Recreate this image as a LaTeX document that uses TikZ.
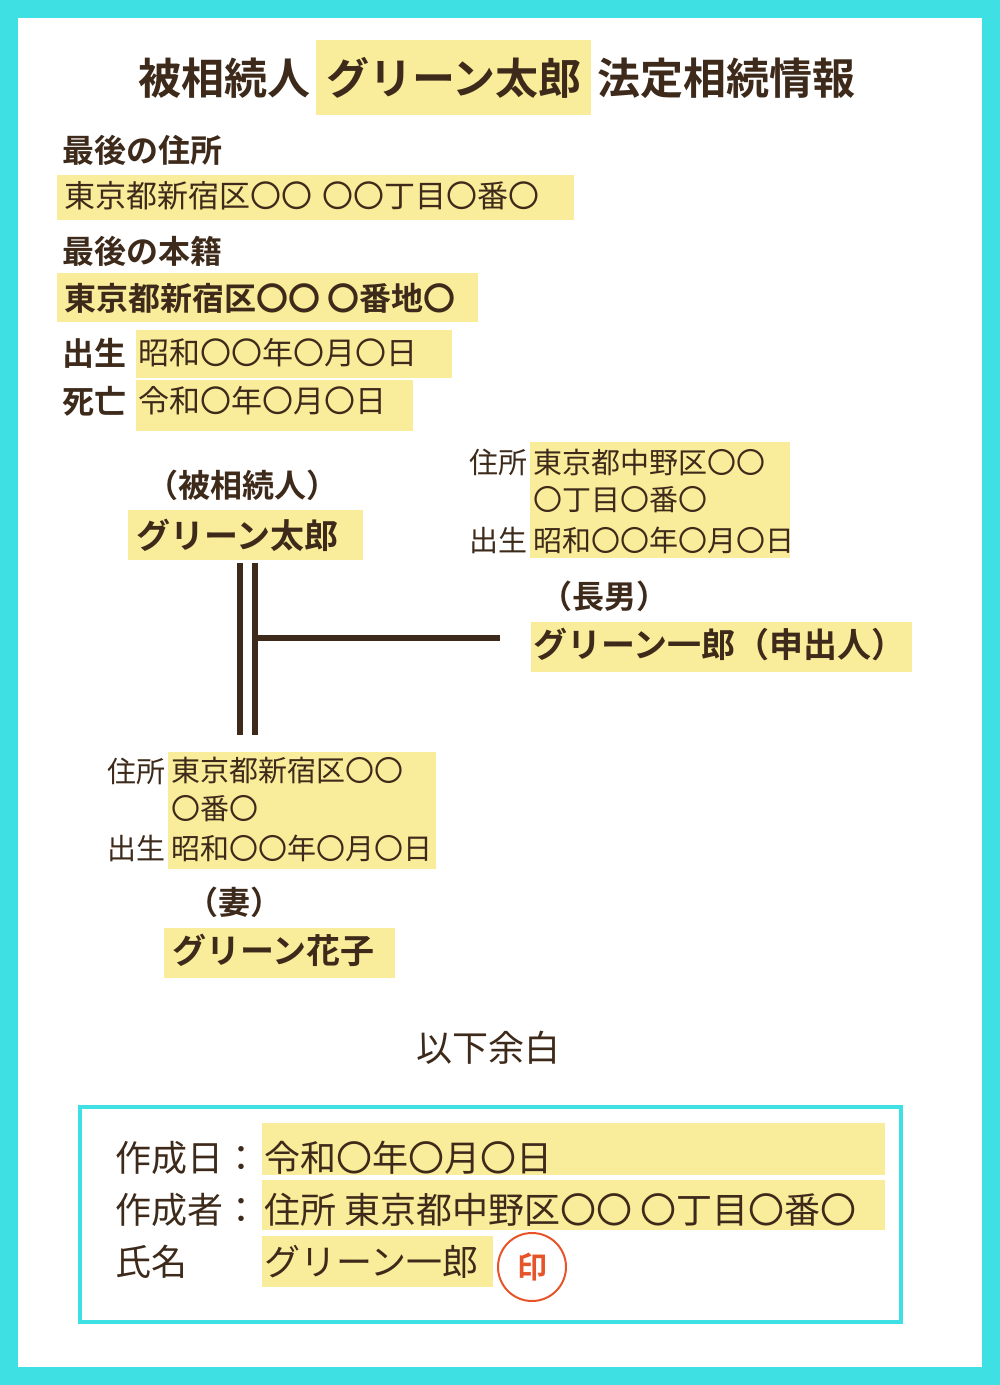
\documentclass[tikz,border=0pt]{standalone}
\usepackage{fontspec}
\setmainfont{Noto Sans CJK JP}
\newfontfamily\jpb{Noto Sans CJK JP Bold}
\definecolor{cyanb}{HTML}{3EE0E4}
\definecolor{hl}{HTML}{F9EC9A}
\definecolor{ink}{HTML}{3D2A1A}
\definecolor{stamp}{HTML}{E8542A}
\tikzset{
 hlbox/.style={fill=hl,draw=none},
 txt/.style={anchor=west,inner sep=0pt,text=ink,font=\fontsize{31}{34}\selectfont},
 btxt/.style={txt,font=\jpb\fontsize{32}{35}\selectfont},
 stxt/.style={txt,font=\fontsize{29}{32}\selectfont},
 ftxt/.style={txt,font=\fontsize{36}{40}\selectfont},
 famline/.style={draw=ink,line width=6pt}
}
\begin{document}
\begin{tikzpicture}[x=1pt,y=-1pt]
\useasboundingbox (0,0) rectangle (1000,1385);
\fill[cyanb] (0,0) rectangle (1000,1385);
\fill[white] (18,18) rectangle (982,1367);
% title
\fill[hlbox] (316,40) rectangle (591,115);
\node[btxt,font=\jpb\fontsize{43}{46}\selectfont,anchor=center] (title) at (497,78) {被相続人\hspace{16pt}グリーン太郎\hspace{16pt}法定相続情報};
% info
\node[btxt] (l1) at (62,150) {最後の住所};
\fill[hlbox] (57,175) rectangle (574,220);
\node[txt] (a1) at (64,196) {東京都新宿区〇〇\hspace{10pt}〇〇丁目〇番〇};
\node[btxt] (l2) at (62,251) {最後の本籍};
\fill[hlbox] (57,273) rectangle (478,322);
\node[btxt] (a2) at (64,298) {東京都新宿区〇〇 〇番地〇};
\fill[hlbox] (136,330) rectangle (452,378);
\node[btxt] (l3) at (62,353) {出生};
\node[txt] (a3) at (138,353) {昭和〇〇年〇月〇日};
\fill[hlbox] (136,380) rectangle (413,431);
\node[btxt] (l4) at (62,401) {死亡};
\node[txt] (a4) at (138,401) {令和〇年〇月〇日};
% deceased
\node[btxt,anchor=center] (r0) at (242,485) {（被相続人）};
\fill[hlbox] (128,510) rectangle (363,560);
\node[btxt,font=\jpb\fontsize{34}{36}\selectfont] (n0) at (136,535) {グリーン太郎};
% son
\fill[hlbox] (530,442) rectangle (790,558);
\node[stxt] (sl1) at (469,462) {住所};
\node[stxt] (sa1) at (533,462) {東京都中野区〇〇};
\node[stxt] (sa2) at (533,500) {〇丁目〇番〇};
\node[stxt] (sl2) at (469,540) {出生};
\node[stxt] (sa3) at (533,540) {昭和〇〇年〇月〇日};
\node[btxt] (r1) at (540,596) {（長男）};
\fill[hlbox] (531,622) rectangle (912,672);
\node[btxt,font=\jpb\fontsize{34}{36}\selectfont] (n1) at (533,645) {グリーン一郎（申出人）};
% lines
\coordinate (v1t) at (240,563); \coordinate (v1b) at (240,735);
\coordinate (v2t) at (255,563); \coordinate (v2b) at (255,735);
\coordinate (hs) at (255,638); \coordinate (he) at (500,638);
\draw[famline] (v1t) -- (v1b);
\draw[famline] (v2t) -- (v2b);
\draw[famline] (hs) -- (he);
% wife
\fill[hlbox] (168,752) rectangle (436,869);
\node[stxt] (wl1) at (107,771) {住所};
\node[stxt] (wa1) at (171,771) {東京都新宿区〇〇};
\node[stxt] (wa2) at (171,809) {〇番〇};
\node[stxt] (wl2) at (107,848) {出生};
\node[stxt] (wa3) at (171,848) {昭和〇〇年〇月〇日};
\node[btxt] (r2) at (186,902) {（妻）};
\fill[hlbox] (164,928) rectangle (395,978);
\node[btxt,font=\jpb\fontsize{34}{36}\selectfont] (n2) at (172,950) {グリーン花子};
% footer
\node[txt,anchor=center,font=\fontsize{36}{40}\selectfont] (yo) at (488,1048) {以下余白};
\draw[cyanb,line width=4pt] (80,1107) rectangle (901,1322);
\fill[hlbox] (262,1123) rectangle (885,1175);
\fill[hlbox] (262,1180) rectangle (885,1230);
\fill[hlbox] (262,1236) rectangle (493,1287);
\node[ftxt] (f1) at (115,1158) {作成日：};
\node[ftxt] (f1v) at (264,1158) {令和〇年〇月〇日};
\node[ftxt] (f2) at (115,1210) {作成者：};
\node[ftxt] (f2v) at (264,1210) {住所 東京都中野区〇〇 〇丁目〇番〇};
\node[ftxt] (f3) at (115,1262) {氏名};
\node[ftxt] (f3v) at (264,1262) {グリーン一郎};
\node[circle,draw=stamp,line width=2pt,fill=white,minimum size=68pt,inner sep=0pt,text=stamp,font=\jpb\fontsize{30}{32}\selectfont] (st) at (532,1267) {印};
\end{tikzpicture}
\end{document}
